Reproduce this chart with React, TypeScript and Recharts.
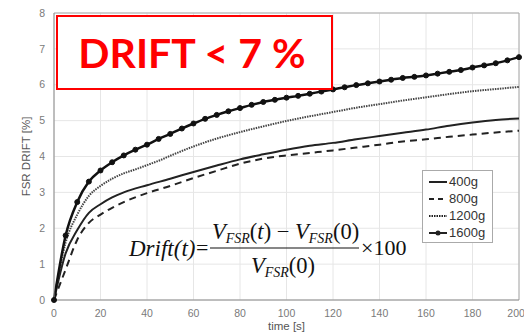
import React from 'react';
import {
  LineChart,
  Line,
  XAxis,
  YAxis,
  CartesianGrid,
  ReferenceLine,
} from 'recharts';

// time axis (s), sampled every 5 s like the 1600g markers
const times = [
  0, 5, 10, 15, 20, 25, 30, 35, 40, 45, 50, 55, 60, 65, 70, 75, 80, 85, 90, 95, 100,
  105, 110, 115, 120, 125, 130, 135, 140, 145, 150, 155, 160, 165, 170, 175, 180, 185,
  190, 195, 200,
];

// drift [%], null where a curve was not read
const drift400 = [
  0, 1.3, 1.95, 2.43, 2.67, 2.86, 3.0, null, 3.2, null, 3.38, null, 3.57, null, 3.75, null,
  3.92, null, 4.06, null, 4.19, null, 4.3, null, 4.38, null, 4.48, null, 4.57, null, 4.66,
  null, 4.75, null, 4.86, null, 4.95, null, 5.02, null, 5.06,
];
const drift800 = [
  0, 0.85, 1.68, 2.15, 2.38, 2.57, 2.73, null, 2.98, null, 3.18, null, 3.4, null, 3.6, null,
  3.8, null, 3.94, null, 4.03, null, 4.1, null, 4.17, null, 4.25, null, 4.33, null, 4.42,
  null, 4.48, null, 4.55, null, 4.61, null, 4.67, null, 4.72,
];
const drift1200 = [
  0, 1.6, 2.38, 2.9, 3.18, 3.38, 3.53, 3.64, 3.76, 3.88, 4.02, null, 4.28, null, 4.5, null,
  4.68, null, 4.84, null, 4.99, null, 5.12, null, 5.24, null, 5.36, null, 5.46, null, 5.56,
  null, 5.65, null, 5.74, null, 5.82, null, 5.88, null, 5.94,
];
const drift1600 = [
  0, 1.8, 2.73, 3.3, 3.61, 3.84, 4.03, 4.19, 4.33, 4.49, 4.63, 4.78, 4.92, 5.05, 5.16, 5.26,
  5.35, 5.44, 5.52, 5.58, 5.64, 5.69, 5.75, 5.81, 5.87, 5.93, 5.99, 6.04, 6.09, 6.14, 6.19,
  6.22, 6.26, 6.31, 6.36, 6.41, 6.48, 6.54, 6.6, 6.68, 6.77,
];

const xTicks = [0, 20, 40, 60, 80, 100, 120, 140, 160, 180, 200];
const yTicks = [0, 1, 2, 3, 4, 5, 6, 7, 8];

const data = times.map((t, i) => ({
  t,
  g400: drift400[i],
  g800: drift800[i],
  g1200: drift1200[i],
  g1600: drift1600[i],
}));

const axisFont = { fontFamily: 'Liberation Sans, Arial, sans-serif', fontSize: 10.5, fill: '#7a7a7a' };

const legendItems = [
  { label: '400g', dash: undefined, dot: false },
  { label: '800g', dash: '5 4', dot: false },
  { label: '1200g', dash: '1.5 1', dot: false },
  { label: '1600g', dash: undefined, dot: true },
];

function DriftLegend() {
  return (
    <div
      style={{
        position: 'absolute',
        left: 422,
        top: 170,
        width: 71,
        height: 73,
        border: '1px solid #aaa',
        background: '#fff',
        fontFamily: 'Liberation Sans, Arial, sans-serif',
        fontSize: 13,
        color: '#333',
        paddingTop: 2,
        boxSizing: 'border-box',
        lineHeight: 1,
      }}
    >
      {legendItems.map((it) => (
        <div key={it.label} style={{ display: 'flex', alignItems: 'center', height: 17, paddingLeft: 5 }}>
          <svg width={20} height={10}>
            <line x1={1} y1={5} x2={19} y2={5} stroke="#222" strokeWidth={2} strokeDasharray={it.dash} />
            {it.dot && <circle cx={10} cy={5} r={2.5} fill="#222" />}
          </svg>
          <span style={{ marginLeft: 1 }}>{it.label}</span>
        </div>
      ))}
    </div>
  );
}

function Formula() {
  const serif = 'Liberation Serif, Times New Roman, serif';
  return (
    <svg width={524} height={333} style={{ position: 'absolute', left: 0, top: 0, pointerEvents: 'none' }}>
      <g fontFamily={serif} fill="#111">
        <text x={129} y={256} fontSize={23} fontStyle="italic">
          Drift(t)
        </text>
        <text x={196} y={255} fontSize={22}>
          =
        </text>
        <text x={212} y={239} fontSize={22.5}>
          <tspan fontStyle="italic">V</tspan>
          <tspan fontStyle="italic" fontSize={14} dy={4}>FSR</tspan>
          <tspan dy={-4}>(</tspan>
          <tspan fontStyle="italic">t</tspan>
          <tspan>) − </tspan>
          <tspan fontStyle="italic">V</tspan>
          <tspan fontStyle="italic" fontSize={14} dy={4}>FSR</tspan>
          <tspan dy={-4}>(0)</tspan>
        </text>
        <line x1={210} y1={248} x2={359} y2={248} stroke="#111" strokeWidth={1.2} />
        <text x={251} y={273} fontSize={22.5}>
          <tspan fontStyle="italic">V</tspan>
          <tspan fontStyle="italic" fontSize={14} dy={4}>FSR</tspan>
          <tspan dy={-4}>(0)</tspan>
        </text>
        <text x={361} y={255} fontSize={22}>
          ×100
        </text>
      </g>
      <rect x={57} y={16} width={275} height={73} fill="#fff" stroke="#ff0000" strokeWidth={2} />
      <text
        x={192}
        y={68}
        textAnchor="middle"
        fontFamily="Lato, Open Sans, sans-serif"
        fontWeight="bold"
        fontSize={41}
        fill="#ff0000"
      >
        DRIFT &lt; 7 %
      </text>
    </svg>
  );
}

export default function App() {
  return (
    <div style={{ position: 'fixed', left: 0, top: 0, width: 524, height: 333, background: '#fff' }}>
      <LineChart width={524} height={333} data={data} margin={{ top: 13, right: 5, bottom: 0, left: 0 }}>
        <CartesianGrid stroke="#e6e6e6" strokeWidth={1} />
        <XAxis
          dataKey="t"
          type="number"
          domain={[0, 200]}
          ticks={xTicks}
          height={33}
          tick={axisFont}
          tickLine={false}
          tickMargin={4}
          stroke="#888"
          label={{ value: 'time [s]', position: 'insideBottom', offset: 3, style: { ...axisFont, fontSize: 11.5, fill: '#555' } }}
        />
        <YAxis
          type="number"
          domain={[0, 8]}
          ticks={yTicks}
          width={54}
          tick={axisFont}
          tickLine={false}
          tickMargin={3}
          stroke="#888"
          label={{
            value: 'FSR DRIFT [%]',
            angle: -90,
            position: 'insideLeft',
            offset: 26,
            style: { ...axisFont, fontSize: 11.5, fill: '#555', textAnchor: 'middle' },
          }}
        />
        <ReferenceLine y={8} stroke="#aaa" />
        <ReferenceLine x={200} stroke="#aaa" />
        <Line
          dataKey="g400"
          type="monotone"
          stroke="#222"
          strokeWidth={2}
          dot={false}
          connectNulls
          isAnimationActive={false}
        />
        <Line
          dataKey="g800"
          type="monotone"
          stroke="#222"
          strokeWidth={2}
          strokeDasharray="7 5"
          dot={false}
          connectNulls
          isAnimationActive={false}
        />
        <Line
          dataKey="g1200"
          type="monotone"
          stroke="#444"
          strokeWidth={2}
          strokeDasharray="1.5 1"
          dot={false}
          connectNulls
          isAnimationActive={false}
        />
        <Line
          dataKey="g1600"
          type="monotone"
          stroke="#111"
          strokeWidth={2.5}
          dot={{ r: 2.5, fill: '#111', stroke: '#111', strokeWidth: 1 }}
          connectNulls
          isAnimationActive={false}
        />
      </LineChart>
      <DriftLegend />
      <Formula />
    </div>
  );
}
